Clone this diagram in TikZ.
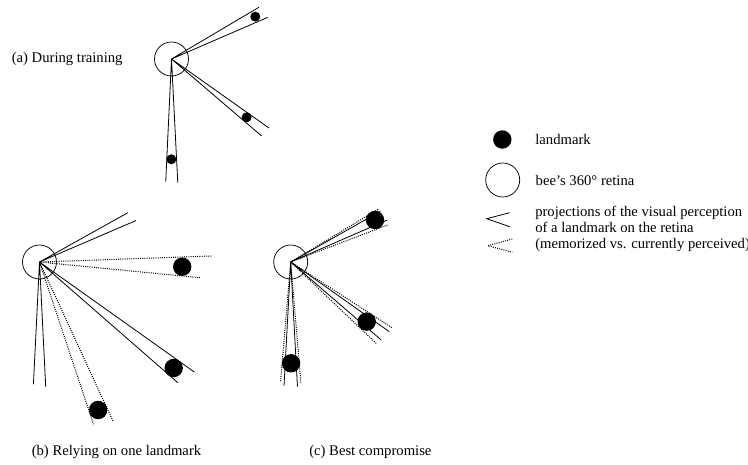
\documentclass[tikz,border=0pt]{standalone}
\usepackage{fontspec}
\setmainfont{Liberation Serif}
\usetikzlibrary{positioning}

\begin{document}
\begin{tikzpicture}[x=0.75pt, y=0.75pt, font=\fontsize{11}{12}\selectfont]
    \tikzstyle{retina}=[circle, minimum size = 25.5pt, inner sep = 0pt, draw = black, line width = 0.55pt]
    \tikzstyle{lmark}=[circle, minimum size = 7.5pt, inner sep = 0pt, fill = black]
    \tikzstyle{lmarkbig}=[lmark, minimum size = 13.8pt]
    \tikzstyle{memo}=[line width = 0.6pt]
    \tikzstyle{seen}=[line width = 0.75pt, dash pattern = on 0.75pt off 0.9pt]
    \tikzstyle{caption}=[anchor = west, inner sep = 0pt]
    \useasboundingbox (0,0) rectangle (748,464);
    % (a) during training
    \node[retina] (ra) at (171.5,405) {};
    \node[caption] (capa) at (11.5,405) {(a) During training};
    \foreach \a/\r [count=\i] in {26.8/93.9, -37.8/95.1, -90.1/100.3}
        \path (ra.center) ++(\a:\r) node[lmark] (la\i) {};
    \foreach \a/\h/\p/\q [count=\i] in {27/3.6/101.6/104.8, -37.9/2.6/119.4/118.6, -89.9/2.8/123.9/122.8} {
        \path (ra.center) +(\a+\h:\p) coordinate (au\i) +(\a-\h:\q) coordinate (ad\i);
        \draw[memo] (au\i) -- (ra.center) -- (ad\i);
    }
    % (b) relying on one landmark
    \node[retina] (rb) at (39.5,202) {};
    \node[caption] (capb) at (31.5,12) {(b) Relying on one landmark};
    \foreach \a/\r [count=\i] in {-1.9/142.8, -38.3/171, -68.4/159.2}
        \path (rb.center) ++(\a:\r) node[lmarkbig] (lb\i) {};
    \foreach \a/\h/\p/\q [count=\i] in {26.2/2.95/101/105, -38.25/2.85/190/183.6, -90/2.85/124.9/122.4} {
        \path (rb.center) +(\a+\h:\p) coordinate (bu\i) +(\a-\h:\q) coordinate (bd\i);
        \draw[memo] (bu\i) -- (rb.center) -- (bd\i);
    }
    \foreach \a/\h/\p/\q [count=\i] in {-1.8/3.8/172/162, -68.4/3.2/175/171} {
        \path (rb.center) +(\a+\h:\p) coordinate (bsu\i) +(\a-\h:\q) coordinate (bsd\i);
        \draw[seen] (bsu\i) -- (rb.center) -- (bsd\i);
    }
    % (c) best compromise
    \node[retina] (rc) at (290.7,202) {};
    \node[caption] (capc) at (309,12) {(c) Best compromise};
    \foreach \a/\r [count=\i] in {26.5/94.2, -38.1/96.6, -89.8/101.3}
        \path (rc.center) ++(\a:\r) node[lmarkbig] (lc\i) {};
    \foreach \a/\h/\p/\q [count=\i] in {26.5/3/103/105, -38/2.75/120.7/119.3, -90/3.1/124.9/123.9} {
        \path (rc.center) +(\a+\h:\p) coordinate (cu\i) +(\a-\h:\q) coordinate (cd\i);
        \draw[memo] (cu\i) -- (rc.center) -- (cd\i);
    }
    \foreach \a/\h/\p/\q [count=\i] in {26/5.1/102/104.4, -38.3/5.3/120.5/118.8, -90/4.85/121.1/120.1} {
        \path (rc.center) +(\a+\h:\p) coordinate (csu\i) +(\a-\h:\q) coordinate (csd\i);
        \draw[seen] (csu\i) -- (rc.center) -- (csd\i);
    }
    % legend
    \node[lmarkbig] (ldot) at (502.3,324.5) {};
    \node[retina] (lret) at (502.7,284) {};
    \node[caption, right = 17.5pt of ldot] (tland) {landmark};
    \node[caption, right = 11.5pt of lret] (tret) {bee's 360° retina};
    \coordinate (wa) at (486.7,245.3);
    \coordinate (wu) at (509.7,251.3);
    \coordinate (wd) at (509.7,237.3);
    \draw[memo] (wu) -- (wa) -- (wd);
    \coordinate (sa) at (487.7,218.3);
    \coordinate (su) at (512.3,225);
    \coordinate (sd) at (512.3,211.7);
    \draw[seen] (su) -- (sa) -- (sd);
    \node[caption, align = left] (tproj) at (535,235) {projections of the visual perception\\of a landmark on the retina\\(memorized vs. currently perceived)};
\end{tikzpicture}
\end{document}
